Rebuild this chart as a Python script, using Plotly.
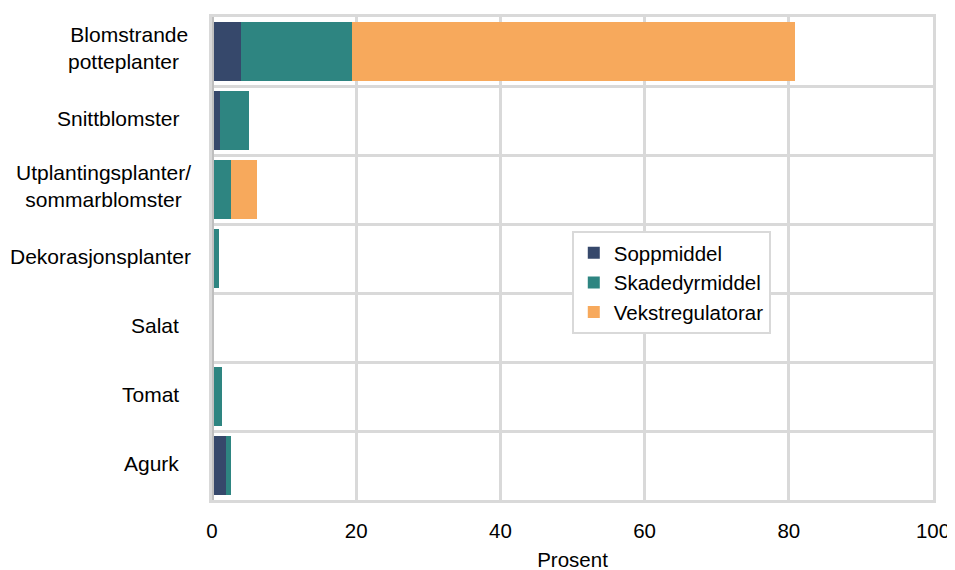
import plotly.graph_objects as go

categories = ["Blomstrande potteplanter", "Snittblomster", "Utplantingsplanter/sommarblomster",
              "Dekorasjonsplanter", "Salat", "Tomat", "Agurk"]
category_labels = ["Blomstrande<br>potteplanter\u00a0\u00a0", "Snittblomster\u00a0\u00a0",
                   "Utplantingsplanter/<br>sommarblomster", "Dekorasjonsplanter",
                   "Salat\u00a0\u00a0", "Tomat\u00a0\u00a0", "Agurk\u00a0\u00a0"]
soppmiddel = [4.0, 1.1, 0.0, 0.0, 0.0, 0.0, 2.0]
skadedyrmiddel = [15.4, 4.1, 2.6, 1.0, 0.2, 1.4, 0.7]
vekstregulatorar = [61.5, 0.0, 3.6, 0.0, 0.0, 0.0, 0.0]
x_ticks = [0, 20, 40, 60, 80, 100]

series = [("Soppmiddel", soppmiddel, "#36486b"),
          ("Skadedyrmiddel", skadedyrmiddel, "#2e8581"),
          ("Vekstregulatorar", vekstregulatorar, "#f7a95c")]

font = "Liberation Sans, Arial, sans-serif"
fig = go.Figure()
for name, vals, col in series:
    fig.add_trace(go.Bar(y=categories, x=vals, name=name, orientation="h",
                         marker=dict(color=col, line=dict(width=0))))

annotations = [dict(xref="paper", yref="y", x=0, y=c, text=lab, showarrow=False,
                    xanchor="right", yanchor="middle", align="center", xshift=-19,
                    yshift=4 if "<br>" in lab else 2,
                    font=dict(size=21, family=font, color="#000"))
               for c, lab in zip(categories, category_labels)]

fig.update_layout(
    barmode="stack", bargap=0.15,
    width=955, height=570,
    margin=dict(l=204, r=30, t=9, b=78),
    paper_bgcolor="white", plot_bgcolor="white",
    font=dict(family=font, size=20.5, color="#000000"),
    legend=dict(x=0.499, y=0.557, xanchor="left", yanchor="top",
                bordercolor="#d9d9d9", borderwidth=2, bgcolor="white",
                traceorder="normal", font=dict(size=20.5), itemwidth=30, tracegroupgap=0),
    xaxis=dict(range=[0, 100], tickvals=x_ticks, showgrid=True, gridcolor="#d9d9d9",
               gridwidth=3, zeroline=False, showline=True, linecolor="#d9d9d9",
               linewidth=3, mirror=True, ticks="", ticklabelstandoff=10, automargin=False,
               tickfont=dict(size=20.5),
               title=dict(text="Prosent", standoff=13, font=dict(size=20.5))),
    yaxis=dict(autorange="reversed", type="category", tickson="boundaries",
               showgrid=True, gridcolor="#d9d9d9", gridwidth=3, showline=True,
               linecolor="#d9d9d9", linewidth=3, mirror=True, ticks="",
               showticklabels=False, automargin=False),
    annotations=annotations,
    shapes=[dict(type="line", xref="x", yref="paper", x0=0, x1=0, y0=0, y1=1,
                 line=dict(color="#bfbfbf", width=4), layer="above")],
)
fig.write_html("out.html")
